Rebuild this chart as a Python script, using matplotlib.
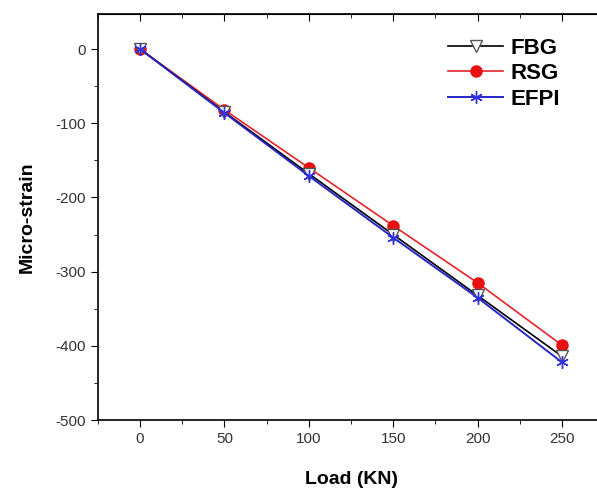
import matplotlib
matplotlib.use("Agg")
import matplotlib.pyplot as plt
from matplotlib.ticker import MultipleLocator

plt.rcParams['font.family'] = ['Liberation Sans', 'DejaVu Sans']
plt.rcParams['axes.unicode_minus'] = False

load = [0, 50, 100, 150, 200, 250]
fbg = [0, -85, -168, -250, -332, -414]
rsg = [0, -82, -160, -238, -315, -399]
efpi = [0, -86, -171, -254, -335, -422]

fig = plt.figure(figsize=(5.97, 4.88), dpi=100)
ax = fig.add_axes([0.164, 0.139, 1.012 - 0.164, 0.971 - 0.139])

ax.plot(load, fbg, color="black", lw=1.2, marker="v", ms=8,
        mfc="white", mec="#555555", label="FBG", zorder=3)
ax.plot(load, rsg, color="#e8242a", lw=1.2, marker="o", ms=8,
        mfc="#e81010", mec="#e81010", label="RSG", zorder=2)
ax.plot(load, efpi, color="#2626c8", lw=1.4, marker=(6, 2, 0), ms=9,
        mec="#3030e0", label="EFPI", zorder=4)

ax.set_xlim(-25, 275)
ax.set_ylim(-500, 47)
ax.xaxis.set_major_locator(MultipleLocator(50))
ax.xaxis.set_minor_locator(MultipleLocator(25))
ax.yaxis.set_major_locator(MultipleLocator(100))
ax.yaxis.set_minor_locator(MultipleLocator(50))
ax.tick_params(which="both", direction="out", labelsize=11, labelcolor="#333333")
ax.tick_params(which="major", length=5)
ax.tick_params(which="minor", length=3)

# mirrored ticks on top and right, pointing inward
top = ax.secondary_xaxis("top")
top.xaxis.set_major_locator(MultipleLocator(50))
top.xaxis.set_minor_locator(MultipleLocator(25))
top.tick_params(which="both", direction="in", labeltop=False)
top.tick_params(which="major", length=5)
top.tick_params(which="minor", length=3)
right = ax.secondary_yaxis("right")
right.yaxis.set_major_locator(MultipleLocator(100))
right.yaxis.set_minor_locator(MultipleLocator(50))
right.tick_params(which="both", direction="in", labelright=False)

for s in ax.spines.values():
    s.set_linewidth(1.2)

ax.set_xlabel("Load (KN)", fontsize=14, fontweight="bold", labelpad=18)
ax.set_ylabel("Micro-strain", fontsize=14, fontweight="bold", labelpad=14)

leg = ax.legend(loc="upper left", bbox_to_anchor=(0.665, 0.975), frameon=False,
                prop={"size": 16, "weight": "bold"}, handlelength=2.5,
                handletextpad=0.3, labelspacing=0.2, borderaxespad=0.2)

fig.savefig("out.png", dpi=100)
